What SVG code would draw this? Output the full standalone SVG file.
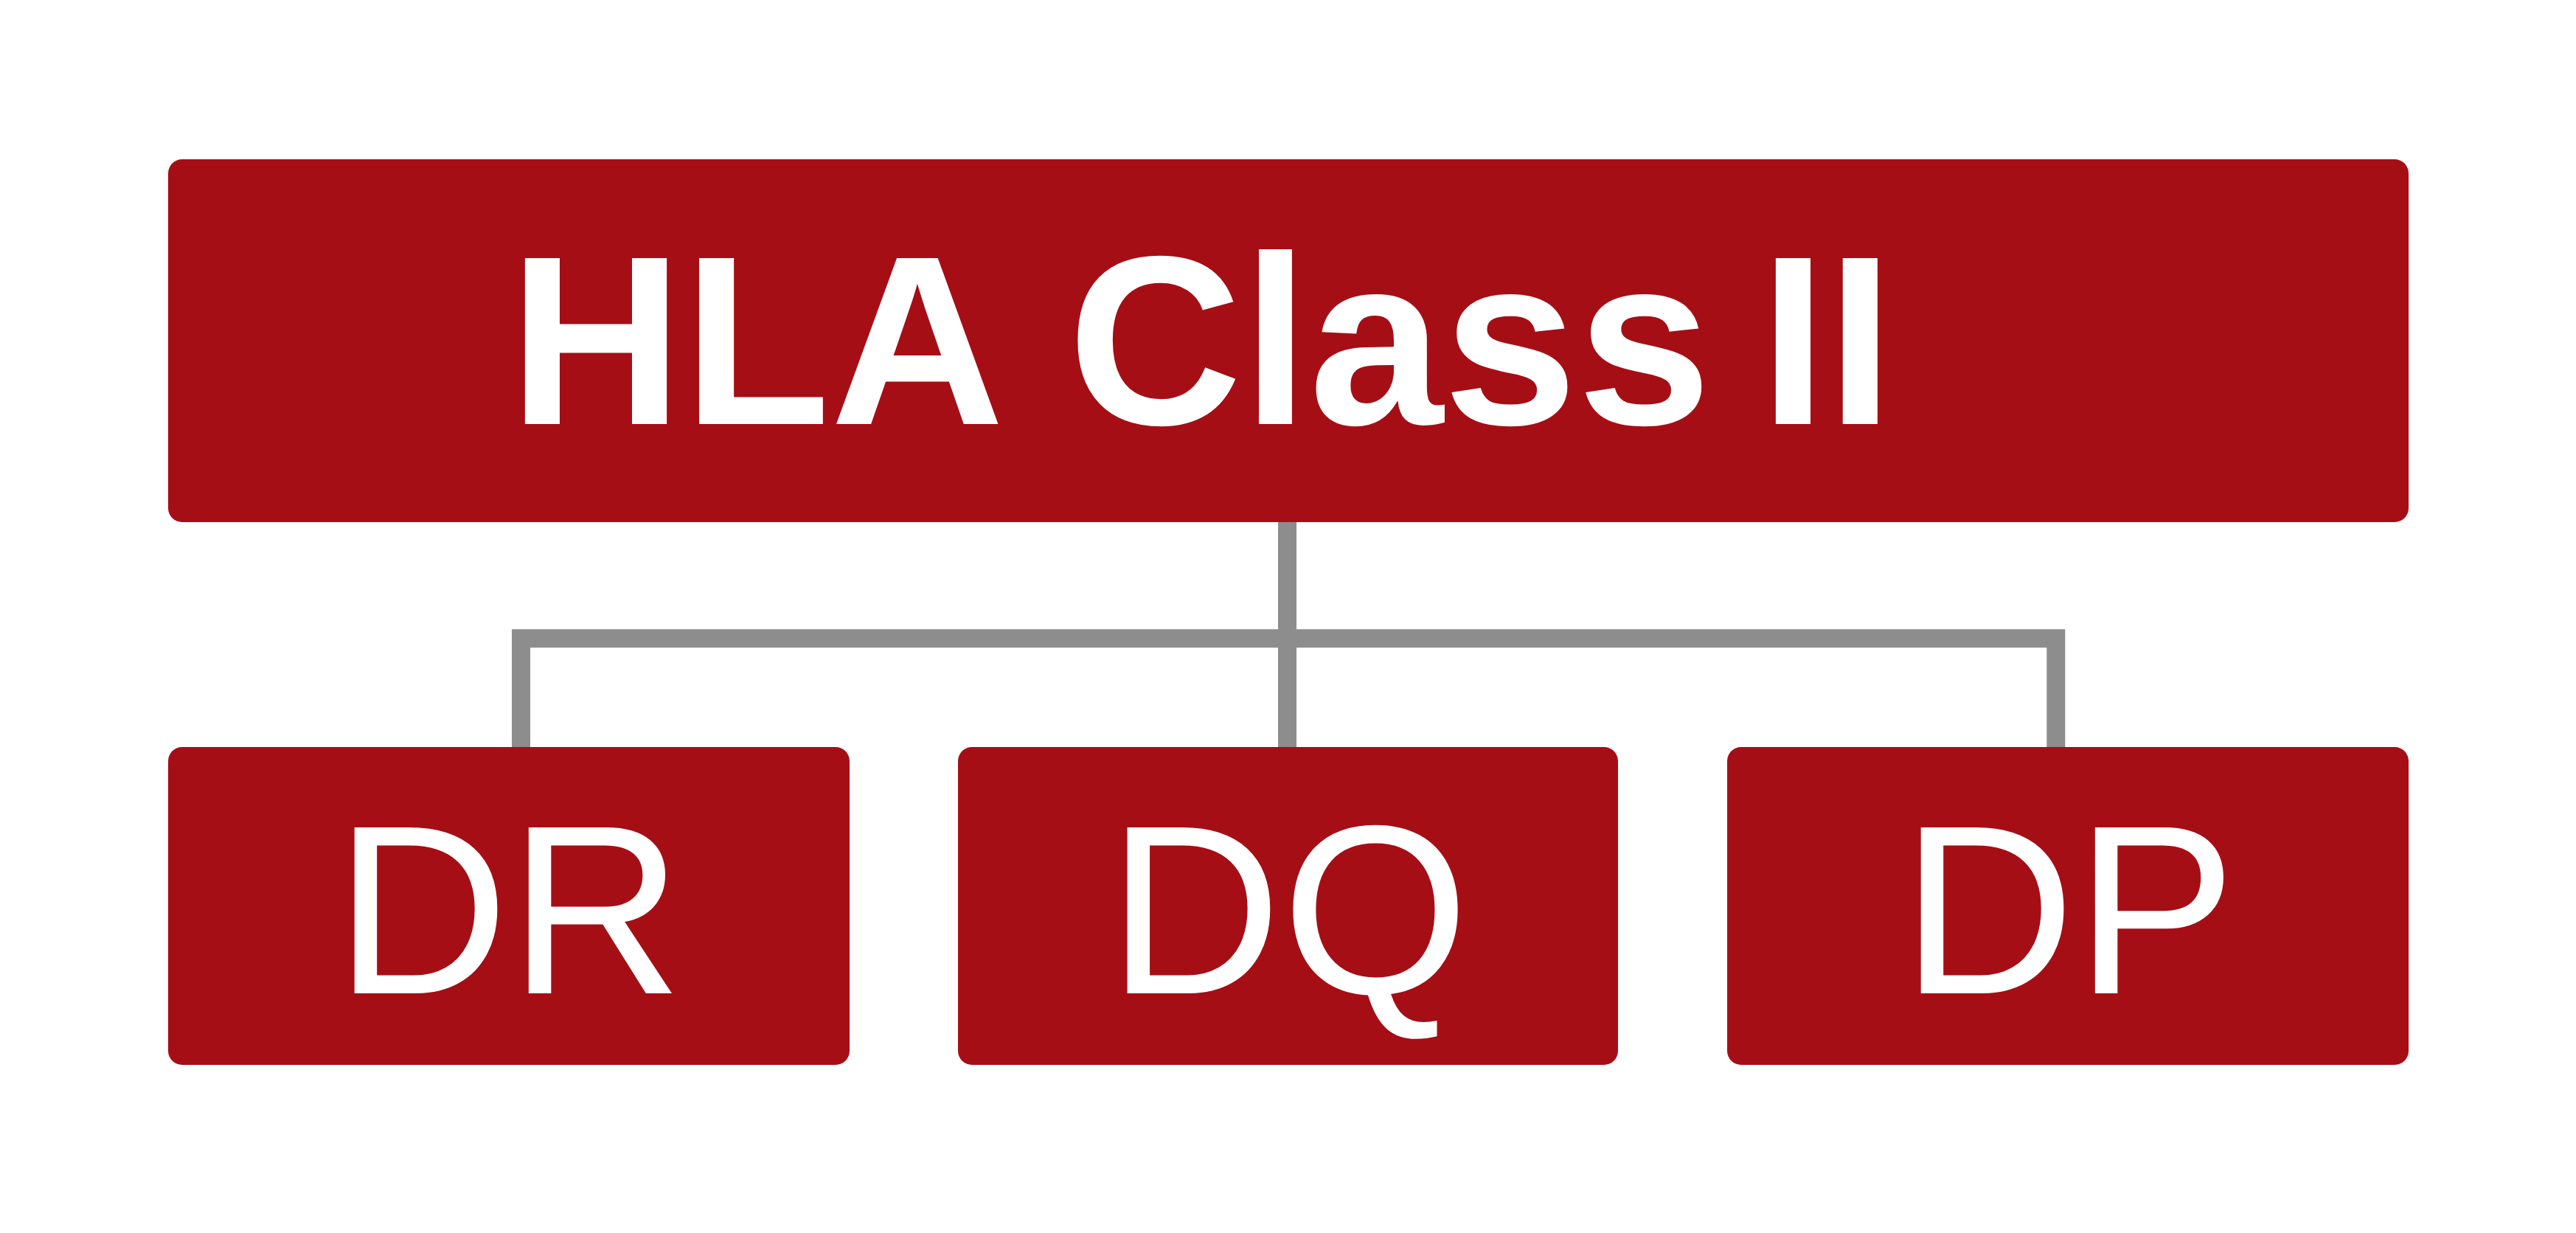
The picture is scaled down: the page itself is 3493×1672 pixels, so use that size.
<svg xmlns="http://www.w3.org/2000/svg" width="3493" height="1672" viewBox="0 0 3493 1672">
  <style>
    .box { fill: #a60e16; }
    .conn { fill: none; stroke: #8d8d8d; stroke-width: 25; stroke-linejoin: miter; stroke-linecap: butt; }
    .title { font-family: "Liberation Sans", Arial, sans-serif; font-weight: bold; font-size: 327px; fill: #ffffff; }
    .label { font-family: "Liberation Sans", Arial, sans-serif; font-weight: normal; font-size: 327px; fill: #ffffff; text-anchor: middle; }
  </style>
  <rect width="3493" height="1672" fill="#ffffff"/>
  <g id="connectors">
    <path class="conn" d="M 706.5 1014 V 865.8 H 2787.8 V 1014"/>
    <path class="conn" d="M 1745.5 707 V 1014"/>
  </g>
  <g id="node-hla-class-ii">
    <rect class="box" x="228" y="216" width="3038" height="492" rx="19" ry="19"/>
    <text class="title" y="575"><tspan x="690">HLA</tspan><tspan x="1448">Class</tspan><tspan x="2386">II</tspan></text>
  </g>
  <g id="node-dr">
    <rect class="box" x="228" y="1013" width="924" height="431" rx="19" ry="19"/>
    <text class="label" x="690" y="1347">DR</text>
  </g>
  <g id="node-dq">
    <rect class="box" x="1299" y="1013" width="895" height="431" rx="19" ry="19"/>
    <text class="label" x="1747" y="1347">DQ</text>
  </g>
  <g id="node-dp">
    <rect class="box" x="2342" y="1013" width="924" height="431" rx="19" ry="19"/>
    <text class="label" x="2805" y="1347">DP</text>
  </g>
</svg>
